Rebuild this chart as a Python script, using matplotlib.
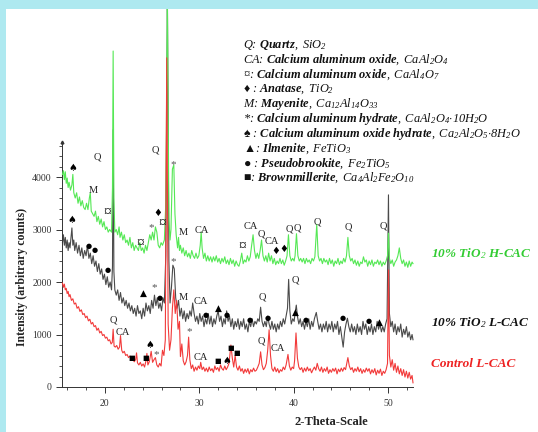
import matplotlib
matplotlib.use("Agg")
import matplotlib.pyplot as plt
from matplotlib.ticker import MultipleLocator
from matplotlib.patches import Rectangle

plt.rcParams['mathtext.fontset'] = 'custom'
plt.rcParams['mathtext.rm'] = 'Liberation Serif:italic'
plt.rcParams['mathtext.it'] = 'Liberation Serif:italic'
plt.rcParams['mathtext.bf'] = 'Liberation Serif:bold:italic'

# ---------------- data (2-theta, counts) ----------------
H_CAC = [(15.5,4050),(15.6,4120),(15.7,3950),(15.8,4100),(15.9,3880),(16.0,3980),(16.1,3800),(16.2,3900),(16.35,3750),(16.5,3850),(16.6,4050),(16.7,3700),(16.85,3600),(17.0,3700),(17.15,3500),(17.3,3620),(17.45,3450),(17.6,3550),(17.75,3420),(17.9,3380),(18.05,3500),(18.2,3380),(18.35,3600),(18.45,3700),(18.55,3350),(18.7,3300),(18.85,3250),(19.0,3350),(19.15,3150),(19.3,3250),(19.45,3100),(19.6,3200),(19.75,3050),(19.9,3150),(20.05,3000),(20.2,3050),(20.35,2950),(20.5,3000),(20.7,2950),(20.8,3800),(20.87,6400),(20.95,3600),(21.05,2950),(21.2,3000),(21.35,2900),(21.5,3050),(21.6,2850),(21.75,2950),(21.9,2800),(22.05,2900),(22.2,2750),(22.35,2800),(22.5,2700),(22.65,2850),(22.8,2650),(22.95,2750),(23.1,2600),(23.25,2700),(23.4,2650),(23.55,2600),(23.7,2750),(23.85,2600),(24.0,2650),(24.15,2550),(24.3,2700),(24.45,2600),(24.6,2750),(24.75,2900),(24.9,2800),(25.05,2950),(25.2,2800),(25.35,3050),(25.5,2950),(25.65,2700),(25.8,2650),(25.95,2750),(26.1,2700),(26.3,2800),(26.45,3500),(26.62,7400),(26.78,3200),(26.9,2800),(27.0,3000),(27.15,4150),(27.3,4230),(27.42,3300),(27.55,2900),(27.7,2650),(27.8,2850),(27.9,2600),(28.0,2700),(28.15,2550),(28.3,2650),(28.45,2500),(28.6,2600),(28.75,2480),(28.9,2550),(29.05,2450),(29.2,2600),(29.35,2500),(29.5,2450),(29.65,2550),(29.8,2450),(29.95,2500),(30.1,2700),(30.2,2950),(30.3,2650),(30.45,2450),(30.6,2550),(30.75,2400),(30.9,2500),(31.05,2400),(31.2,2480),(31.35,2380),(31.5,2480),(31.65,2400),(31.8,2500),(31.95,2380),(32.1,2450),(32.25,2350),(32.4,2450),(32.55,2380),(32.7,2480),(32.85,2350),(33.0,2420),(33.15,2330),(33.3,2450),(33.45,2350),(33.6,2420),(33.75,2300),(33.9,2400),(34.05,2330),(34.2,2300),(34.35,2400),(34.5,2550),(34.65,2350),(34.8,2420),(34.95,2380),(35.1,2500),(35.25,2400),(35.4,2480),(35.55,2700),(35.7,2900),(35.85,2600),(36.0,2450),(36.15,2550),(36.3,2450),(36.45,2600),(36.6,2800),(36.75,2500),(36.9,2400),(37.05,2500),(37.2,2380),(37.35,2550),(37.5,2400),(37.65,2500),(37.8,2350),(37.95,2450),(38.1,2330),(38.25,2400),(38.4,2350),(38.55,2450),(38.7,2350),(38.85,2420),(39.0,2320),(39.15,2400),(39.3,2500),(39.45,2900),(39.6,2500),(39.75,2400),(39.9,2450),(40.05,2400),(40.15,2500),(40.3,2920),(40.45,2500),(40.6,2400),(40.75,2450),(40.9,2380),(41.05,2450),(41.2,2350),(41.35,2450),(41.5,2380),(41.65,2420),(41.8,2350),(41.95,2450),(42.1,2400),(42.25,2480),(42.45,3100),(42.6,2500),(42.75,2400),(42.9,2450),(43.05,2350),(43.2,2450),(43.35,2380),(43.5,2420),(43.65,2330),(43.8,2450),(43.95,2350),(44.1,2420),(44.25,2300),(44.4,2400),(44.55,2350),(44.7,2450),(44.85,2330),(45.0,2400),(45.15,2350),(45.3,2450),(45.45,2380),(45.6,2500),(45.75,2850),(45.9,2500),(46.05,2400),(46.2,2450),(46.35,2350),(46.5,2420),(46.65,2320),(46.8,2400),(46.95,2300),(47.1,2380),(47.25,2350),(47.4,2480),(47.55,2380),(47.7,2420),(47.85,2300),(48.0,2400),(48.15,2330),(48.3,2420),(48.45,2300),(48.6,2380),(48.75,2350),(48.9,2420),(49.05,2330),(49.2,2400),(49.35,2300),(49.5,2380),(49.65,2330),(49.8,2400),(49.95,2500),(50.05,2930),(50.15,2450),(50.3,2350),(50.45,2420),(50.6,2300),(50.75,2380),(50.9,2420),(51.05,2500),(51.2,2650),(51.35,2450),(51.5,2350),(51.65,2420),(51.8,2300),(51.95,2380),(52.1,2280),(52.25,2400),(52.4,2300),(52.55,2380),(52.65,2350)]

L_CAC_TIO2 = [(15.5,2750),(15.6,2900),(15.7,2700),(15.8,2850),(15.9,2650),(16.0,2800),(16.1,2600),(16.2,2750),(16.3,2650),(16.4,2850),(16.5,3030),(16.6,2700),(16.7,2800),(16.8,2600),(16.95,2750),(17.1,2550),(17.25,2700),(17.4,2500),(17.55,2650),(17.7,2450),(17.85,2600),(18.0,2500),(18.15,2700),(18.3,2450),(18.45,2550),(18.6,2350),(18.75,2500),(18.9,2300),(19.05,2400),(19.2,2200),(19.35,2350),(19.5,2150),(19.65,2250),(19.8,2050),(19.95,2150),(20.1,1950),(20.25,2100),(20.4,1900),(20.55,2000),(20.7,1850),(20.8,2300),(20.87,4900),(20.95,2200),(21.05,1850),(21.2,1750),(21.35,1850),(21.5,1650),(21.65,1800),(21.8,1600),(21.95,1700),(22.1,1550),(22.25,1650),(22.4,1500),(22.55,1600),(22.7,1450),(22.85,1550),(23.0,1400),(23.15,1500),(23.3,1350),(23.45,1550),(23.6,1400),(23.75,1450),(23.9,1300),(24.05,1500),(24.2,1350),(24.35,1600),(24.5,1450),(24.65,1550),(24.8,1400),(24.95,1650),(25.1,1500),(25.25,1750),(25.4,1550),(25.55,1700),(25.7,1500),(25.85,1600),(26.0,1450),(26.15,1700),(26.3,1600),(26.45,2500),(26.62,7400),(26.78,2400),(26.9,1600),(27.05,1900),(27.2,2320),(27.35,2250),(27.5,1700),(27.65,1500),(27.8,1650),(27.95,1350),(28.1,1500),(28.25,1300),(28.4,1450),(28.55,1250),(28.7,1400),(28.85,1300),(29.0,1450),(29.15,1350),(29.3,1600),(29.45,1400),(29.6,1250),(29.75,1350),(29.9,1200),(30.05,1400),(30.2,1250),(30.35,1350),(30.5,1150),(30.65,1300),(30.8,1200),(30.95,1400),(31.1,1200),(31.25,1350),(31.4,1150),(31.55,1300),(31.7,1200),(31.85,1350),(32.0,1450),(32.15,1250),(32.3,1350),(32.45,1150),(32.6,1300),(32.75,1200),(32.9,1450),(33.05,1250),(33.2,1350),(33.35,1150),(33.5,1300),(33.65,1100),(33.8,1250),(33.95,1150),(34.1,1300),(34.25,1100),(34.4,1250),(34.55,1150),(34.7,1300),(34.85,1100),(35.0,1200),(35.15,1050),(35.3,1250),(35.45,1150),(35.6,1300),(35.75,1150),(35.9,1250),(36.05,1200),(36.2,1300),(36.35,1250),(36.5,1520),(36.65,1250),(36.8,1150),(36.95,1250),(37.1,1150),(37.25,1350),(37.4,1200),(37.55,1100),(37.7,1250),(37.85,1100),(38.0,1200),(38.15,1050),(38.3,1200),(38.45,1100),(38.6,1250),(38.75,1150),(38.9,1300),(39.05,1200),(39.2,1350),(39.35,1500),(39.47,2050),(39.6,1450),(39.75,1200),(39.9,1300),(40.05,1250),(40.15,1400),(40.28,1560),(40.4,1350),(40.55,1200),(40.7,1300),(40.85,1150),(41.0,1250),(41.15,1100),(41.3,1250),(41.45,1150),(41.6,1300),(41.75,1100),(41.9,1250),(42.05,1150),(42.2,1300),(42.4,1420),(42.55,1250),(42.7,1100),(42.85,1200),(43.0,1050),(43.15,1200),(43.3,1100),(43.45,1250),(43.6,1050),(43.75,1200),(43.9,1100),(44.05,1250),(44.2,1050),(44.35,1200),(44.5,1100),(44.65,1250),(44.8,1000),(44.95,1150),(45.1,950),(45.25,760),(45.4,1050),(45.55,1200),(45.7,1310),(45.85,1150),(46.0,1050),(46.15,1200),(46.3,1050),(46.45,1150),(46.6,1000),(46.75,1200),(46.9,1050),(47.05,1150),(47.2,1000),(47.35,1250),(47.5,1100),(47.65,1200),(47.8,1000),(47.95,1150),(48.1,1050),(48.25,1200),(48.4,1000),(48.55,1150),(48.7,1050),(48.85,1250),(49.0,1100),(49.15,1200),(49.3,1050),(49.45,1150),(49.6,1050),(49.75,1200),(49.9,1300),(50.05,3660),(50.15,1400),(50.3,1150),(50.45,1250),(50.6,1050),(50.75,1200),(50.9,1000),(51.05,1150),(51.2,1050),(51.35,1200),(51.5,950),(51.65,1100),(51.8,1000),(51.95,1150),(52.1,950),(52.25,1050),(52.4,900),(52.55,1000),(52.65,900)]

CONTROL = [(15.5,1980),(15.6,1900),(15.7,1960),(15.8,1850),(15.9,1880),(16.0,1780),(16.1,1820),(16.2,1720),(16.3,1760),(16.45,1650),(16.6,1680),(16.75,1580),(16.9,1600),(17.05,1500),(17.2,1530),(17.35,1440),(17.5,1470),(17.65,1380),(17.8,1400),(17.95,1320),(18.1,1350),(18.25,1260),(18.4,1290),(18.55,1200),(18.7,1230),(18.85,1150),(19.0,1170),(19.15,1080),(19.3,1120),(19.45,1030),(19.6,1060),(19.75,980),(19.9,1000),(20.05,930),(20.2,950),(20.35,880),(20.5,900),(20.65,820),(20.78,850),(20.87,1100),(20.97,780),(21.1,760),(21.25,790),(21.4,720),(21.55,760),(21.65,980),(21.78,700),(21.9,650),(22.05,680),(22.2,600),(22.35,620),(22.5,560),(22.65,590),(22.8,520),(22.95,560),(23.1,480),(23.25,520),(23.35,650),(23.45,460),(23.6,420),(23.75,470),(23.9,400),(24.05,440),(24.2,380),(24.35,500),(24.45,640),(24.55,420),(24.7,480),(24.9,680),(25.05,470),(25.2,520),(25.35,560),(25.5,420),(25.65,380),(25.8,450),(25.95,400),(26.1,700),(26.25,600),(26.4,900),(26.55,6270),(26.7,1200),(26.85,700),(27.0,900),(27.15,1500),(27.3,1850),(27.45,1400),(27.6,1650),(27.75,1100),(27.9,1250),(28.0,580),(28.15,820),(28.3,500),(28.45,420),(28.6,480),(28.75,600),(28.87,950),(29.0,520),(29.15,350),(29.3,420),(29.45,300),(29.6,380),(29.75,320),(29.9,400),(30.05,350),(30.15,470),(30.3,330),(30.45,380),(30.6,300),(30.75,360),(30.9,290),(31.05,380),(31.2,310),(31.35,350),(31.5,280),(31.65,400),(31.8,330),(31.95,370),(32.1,300),(32.25,420),(32.4,350),(32.55,320),(32.7,400),(32.85,330),(33.0,380),(33.15,450),(33.35,800),(33.5,550),(33.65,380),(33.8,600),(33.95,380),(34.1,320),(34.25,400),(34.4,300),(34.55,350),(34.7,260),(34.85,340),(35.0,280),(35.15,350),(35.3,250),(35.45,330),(35.6,290),(35.75,360),(35.9,300),(36.05,320),(36.2,380),(36.35,450),(36.5,670),(36.65,420),(36.8,330),(36.95,370),(37.1,450),(37.25,700),(37.4,1090),(37.55,600),(37.7,350),(37.85,300),(38.0,380),(38.15,290),(38.3,350),(38.45,270),(38.6,330),(38.75,300),(38.9,380),(39.05,330),(39.2,420),(39.4,620),(39.55,400),(39.7,320),(39.85,380),(40.0,350),(40.1,500),(40.25,1030),(40.4,550),(40.55,380),(40.7,330),(40.85,370),(41.0,280),(41.15,360),(41.3,300),(41.45,380),(41.6,310),(41.75,350),(41.9,270),(42.05,330),(42.2,380),(42.35,320),(42.5,450),(42.65,350),(42.8,300),(42.95,380),(43.1,280),(43.25,350),(43.4,300),(43.55,380),(43.7,260),(43.85,330),(44.0,280),(44.15,350),(44.3,300),(44.45,360),(44.6,250),(44.75,340),(44.9,290),(45.05,360),(45.2,300),(45.35,370),(45.5,330),(45.6,420),(45.75,560),(45.9,400),(46.05,330),(46.2,370),(46.35,280),(46.5,350),(46.65,300),(46.8,380),(46.95,290),(47.1,350),(47.25,260),(47.4,330),(47.55,280),(47.7,360),(47.85,300),(48.0,350),(48.15,250),(48.3,330),(48.45,270),(48.6,350),(48.75,230),(48.9,320),(49.05,260),(49.2,340),(49.35,220),(49.5,300),(49.65,260),(49.8,330),(49.95,450),(50.05,2230),(50.15,600),(50.3,380),(50.45,520),(50.6,320),(50.75,450),(50.9,280),(51.05,400),(51.2,250),(51.35,350),(51.5,220),(51.65,330),(51.8,190),(51.95,300),(52.1,170),(52.25,280),(52.4,150),(52.55,220),(52.65,80)]

series_names = ["10% TiO$_2$ H-CAC", "10% TiO$_2$ L-CAC", "Control L-CAC"]

# phase labels: (text, 2-theta, counts)
peak_labels = [
    ("♠",16.6,4170),("Q",19.16,4380),("M",18.73,3750),("¤",20.22,3330),("¤",23.71,2740),
    ("*",24.88,3030),("♦",25.62,3310),("¤",26.04,3120),("Q",25.3,4510),("*",27.2,4230),
    ("M",28.27,2950),("CA",30.28,2990),("¤",34.52,2670),("CA",35.5,3060),("Q",36.55,2920),
    ("CA",37.65,2770),("♦",38.15,2590),("♦",38.95,2620),("Q",39.5,3010),("Q",40.35,3030),
    ("Q",42.46,3140),("Q",45.75,3050),("Q",49.46,3070),
    ("♠",16.5,3180),("●",18.31,2690),("●",18.95,2610),("●",20.32,2230),("▲",24.03,1790),
    ("*",25.2,1890),("●",25.83,1700),("*",27.21,2380),("M",28.27,1700),("CA",30.17,1620),
    ("●",30.7,1370),("▲",31.98,1500),("●",32.93,1370),("●",35.37,1280),("Q",36.64,1710),
    ("●",37.27,1310),("Q",40.13,2040),("▲",40.24,1430),("●",41.3,1280),("●",45.22,1310),
    ("●",47.97,1260),("▲",49.14,1240),
    ("Q",20.85,1280),("CA",21.91,1030),("■",22.87,550),("■",24.35,550),("♠",24.77,800),
    ("*",25.41,610),("*",28.9,1050),("CA",30.17,570),("■",31.97,500),("♠",32.93,500),
    ("■",33.35,740),("■",33.99,650),("Q",36.53,880),("CA",38.33,740),
]

legend_lines = [
    r"Q: $\mathbf{Quartz},\ SiO_2$",
    r"CA: $\mathbf{Calcium\ aluminum\ oxide},\ CaAl_2O_4$",
    r"¤: $\mathbf{Calcium\ aluminum\ oxide},\ CaAl_4O_7$",
    r"♦ : $\mathbf{Anatase},\ TiO_2$",
    r"M: $\mathbf{Mayenite},\ Ca_{12}Al_{14}O_{33}$",
    r"*: $\mathbf{Calcium\ aluminum\ hydrate},\ CaAl_2O_4{\cdot}10H_2O$",
    r"♠ : $\mathbf{Calcium\ aluminum\ oxide\ hydrate},\ Ca_2Al_2O_5{\cdot}8H_2O$",
    r"▲: $\mathbf{Ilmenite},\ FeTiO_3$",
    r"● : $\mathbf{Pseudobrookite},\ Fe_2TiO_5$",
    r"■: $\mathbf{Brownmillerite},\ Ca_4Al_2Fe_2O_{10}$",
]

# ---------------- figure ----------------
W, H = 538, 432
fig = plt.figure(figsize=(W/100, H/100), dpi=100)
fig.patch.set_facecolor("white")

ax = fig.add_axes([62/W, 1-387/H, (413-62)/W, (387-142)/H])
ax.set_facecolor("none")

colors = ["#55e855", "#4a4a4a", "#f23a3a"]
data = [H_CAC, L_CAC_TIO2, CONTROL]
zo = [3, 2, 4]
for d, c, z in zip(data, colors, zo):
    xs = [p[0] for p in d]
    ys = [p[1] for p in d]
    ax.plot(xs, ys, color=c, lw=0.8, zorder=z, clip_on=False)

ax.set_xlim(15.45, 52.65)
ax.set_ylim(0, 4667)
for s in ["top", "right"]:
    ax.spines[s].set_visible(False)
for s in ["left", "bottom"]:
    ax.spines[s].set_linewidth(0.7)
    ax.spines[s].set_color("#333333")
ax.plot([0], [1], transform=ax.transAxes, marker="^", ms=2, color="#333333",
        clip_on=False, zorder=5)
ax.xaxis.set_major_locator(MultipleLocator(10))
ax.xaxis.set_minor_locator(MultipleLocator(2))
ax.yaxis.set_major_locator(MultipleLocator(1000))
ax.yaxis.set_minor_locator(MultipleLocator(200))
ax.tick_params(which="major", direction="out", length=4, width=0.7, color="#333333",
               labelsize=7, labelcolor="#333333")
ax.tick_params(which="minor", direction="out", length=2, width=0.6, color="#333333")
for lab in ax.get_xticklabels() + ax.get_yticklabels():
    lab.set_fontfamily("Liberation Serif")
ax.tick_params(axis="x", pad=5)

sym_size = {"●": 5, "■": 5, "▲": 6.5, "♠": 7, "♦": 7}
sym_family = ["Liberation Serif", "DejaVu Sans"]
for txt, tx, ty in peak_labels:
    if txt in ("Q", "CA", "M"):
        ax.text(tx, ty, txt, fontsize=7.5, family="Liberation Serif", color="#222222",
                ha="center", va="center", zorder=6)
    elif txt == "*":
        ax.text(tx, ty, txt, fontsize=8, family="Liberation Serif", color="#555555",
                ha="center", va="center", zorder=6)
    elif txt == "¤":
        ax.text(tx, ty, txt, fontsize=11, family="Liberation Serif", color="#111111",
                ha="center", va="center", zorder=6)
    else:
        ax.text(tx, ty, txt, fontsize=sym_size[txt], family="DejaVu Sans", color="black",
                ha="center", va="center", zorder=6)

# legend block
for i, line in enumerate(legend_lines):
    y = 45 + i * 14.8
    fig.text(243/W, 1 - y/H, line, fontsize=8.9, family=sym_family, style="italic",
             color="#111111", ha="left", va="center")

# series labels
lab_y = [254, 323, 364]
lab_col = ["#33cc33", "#111111", "#ee2222"]
for name, y, c in zip(series_names, lab_y, lab_col):
    fig.text(431/W, 1 - y/H, name, fontsize=9.5, family="Liberation Serif",
             style="italic", weight="bold", color=c, ha="left", va="center")

fig.text(22/W, 1 - 277/H, "Intensity (arbitrary counts)", rotation=90, fontsize=8.5,
         family="Liberation Serif", weight="bold", ha="center", va="center", color="#222222")
fig.text(331/W, 1 - 422/H, "2-Theta-Scale", fontsize=9, family="Liberation Serif",
         weight="bold", ha="center", va="center", color="#222222")

# cyan frame
cy = "#aee9f0"
fig.add_artist(Rectangle((0, 1 - 9/H), 1, 9/H, transform=fig.transFigure,
                         facecolor=cy, edgecolor="none", zorder=20))
fig.add_artist(Rectangle((0, 0), 6/W, 1, transform=fig.transFigure,
                         facecolor=cy, edgecolor="none", zorder=20))

fig.savefig("out.png", dpi=100, facecolor=fig.get_facecolor())
